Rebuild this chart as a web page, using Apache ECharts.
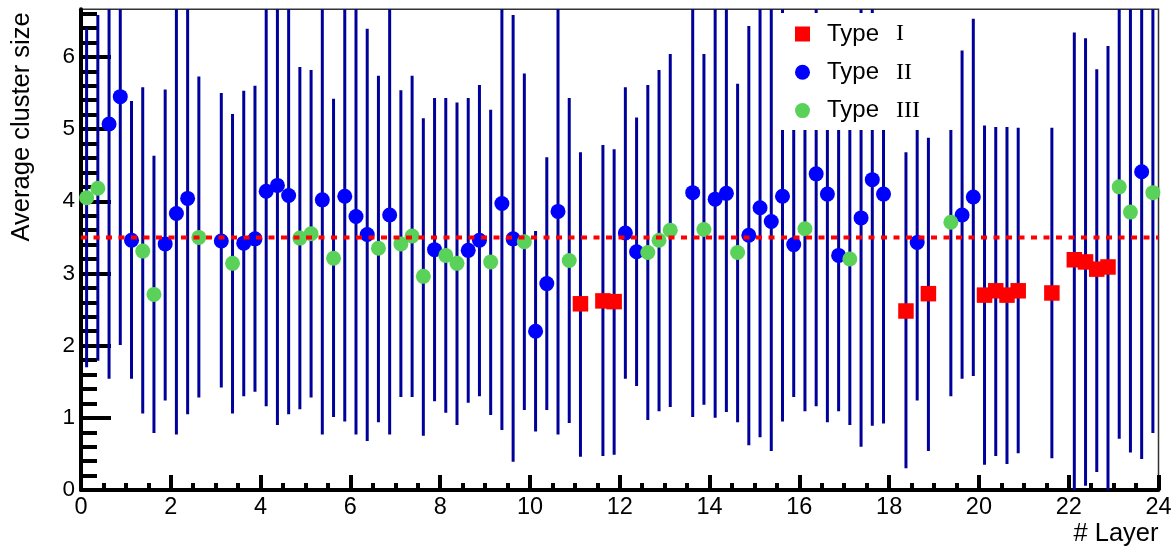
<!DOCTYPE html>
<html><head><meta charset="utf-8">
<script src="https://cdn.jsdelivr.net/npm/echarts@6/dist/echarts.min.js"></script>
<style>html,body{margin:0;padding:0;background:#fff}#c{width:1175px;height:547px}</style>
</head><body><div id="c"></div>
<script>
// ---- data ----
const typeI_layer = [11.125, 11.625, 11.875, 18.375, 18.875, 20.125, 20.375, 20.625, 20.875, 21.625, 22.125, 22.375, 22.625, 22.875];
const typeI_mean  = [2.58, 2.62, 2.61, 2.48, 2.72, 2.70, 2.76, 2.70, 2.76, 2.73, 3.19, 3.16, 3.06, 3.09];
const typeI_low   = [0.46, 0.47, 0.49, 0.30, 0.54, 0.35, 0.47, 0.36, 0.51, 0.44, 0.00, 0.06, 0.25, 0.00];
const typeI_high  = [4.68, 4.78, 4.72, 4.68, 4.88, 5.05, 5.03, 5.03, 5.02, 5.02, 6.34, 6.26, 5.83, 6.15];

const typeII_layer = [0.625, 0.875, 1.125, 1.875, 2.125, 2.375, 3.125, 3.625, 3.875, 4.125, 4.375, 4.625, 5.375, 5.875, 6.125, 6.375, 6.875, 7.875, 8.625, 8.875, 9.375, 9.625, 10.125, 10.375, 10.625, 12.125, 12.375, 13.625, 14.125, 14.375, 14.875, 15.125, 15.375, 15.625, 15.875, 16.375, 16.625, 16.875, 17.375, 17.625, 17.875, 18.625, 19.625, 19.875, 23.625];
const typeII_mean  = [5.07, 5.45, 3.46, 3.41, 3.83, 4.04, 3.45, 3.42, 3.48, 4.14, 4.22, 4.08, 4.02, 4.07, 3.79, 3.54, 3.81, 3.33, 3.32, 3.46, 3.97, 3.48, 2.20, 2.86, 3.86, 3.56, 3.30, 4.12, 4.03, 4.11, 3.53, 3.91, 3.72, 4.07, 3.40, 4.38, 4.10, 3.25, 3.77, 4.30, 4.10, 3.43, 3.81, 4.06, 4.41];
const typeII_low   = [1.54, 2.01, 1.54, 1.24, 0.77, 1.05, 1.42, 1.30, 1.36, 1.16, 0.90, 1.05, 0.77, 0.95, 0.77, 0.68, 0.77, 1.23, 1.21, 1.30, 0.83, 0.39, 0.81, 1.11, 0.77, 1.54, 1.44, 1.01, 1.00, 1.08, 0.62, 0.73, 0.54, 0.95, 1.29, 1.16, 0.94, 1.09, 0.60, 0.89, 0.92, 1.24, 1.54, 1.58, 0.43];
const typeII_high  = [7.50, 7.50, 5.39, 5.55, 7.50, 7.50, 5.50, 5.53, 5.60, 7.50, 7.50, 7.50, 7.50, 7.50, 7.50, 6.39, 7.50, 5.43, 5.43, 5.61, 7.50, 6.58, 3.59, 4.61, 7.50, 5.58, 5.16, 7.50, 7.50, 7.50, 6.43, 7.50, 7.50, 7.50, 5.60, 7.50, 6.30, 5.50, 7.20, 7.20, 6.20, 5.80, 6.09, 6.53, 7.50];

const typeIII_layer = [0.125, 0.375, 1.375, 1.625, 2.625, 3.375, 4.875, 5.125, 5.625, 6.625, 7.125, 7.375, 7.625, 8.125, 8.375, 9.125, 9.875, 10.875, 12.625, 12.875, 13.125, 13.875, 14.625, 16.125, 17.125, 19.375, 23.125, 23.375, 23.875];
const typeIII_mean  = [4.05, 4.18, 3.31, 2.71, 3.50, 3.14, 3.49, 3.55, 3.21, 3.35, 3.41, 3.52, 2.96, 3.25, 3.14, 3.16, 3.44, 3.18, 3.29, 3.46, 3.60, 3.61, 3.29, 3.62, 3.20, 3.71, 4.20, 3.85, 4.12];
const typeIII_low   = [1.70, 1.79, 1.06, 0.79, 1.28, 1.06, 1.12, 1.28, 1.01, 0.94, 1.29, 1.29, 0.75, 1.07, 0.90, 1.04, 1.11, 0.93, 0.97, 1.09, 1.15, 1.18, 0.94, 1.09, 0.90, 1.30, 0.71, 0.52, 0.79];
const typeIII_high  = [6.39, 6.58, 5.58, 4.63, 5.73, 5.21, 5.86, 5.82, 5.42, 5.74, 5.54, 5.74, 5.15, 5.43, 5.37, 5.27, 5.77, 5.43, 5.61, 5.82, 6.04, 6.04, 5.63, 5.90, 5.60, 5.70, 7.50, 7.50, 7.50];

const meanLevel = 3.5;
const xTickValues = [0, 2, 4, 6, 8, 10, 12, 14, 16, 18, 20, 22, 24];
const yMajorTicks = [0, 1, 2, 3, 4, 5, 6];
const yMinorTicks = [0.2, 0.4, 0.6, 0.8, 1.2, 1.4, 1.6, 1.8, 2.2, 2.4, 2.6, 2.8, 3.2, 3.4, 3.6, 3.8, 4.2, 4.4, 4.6, 4.8, 5.2, 5.4, 5.6, 5.8, 6.2, 6.4, 6.6];
const yMax = 6.66;

// ---- chart ----
const zip2 = (a, b) => a.map((v, i) => [v, b[i]]);
const zip3 = (a, b, c) => a.map((v, i) => [v, b[i], c[i]]);
const BAR = '#00009a';
const FONT = 'Liberation Sans';

function errSeries(name, layer, lo, hi) {
  return {
    type: 'custom', name: name, clip: true, z: 2, silent: true,
    data: zip3(layer, lo, hi),
    encode: { x: 0, y: [1, 2] },
    renderItem: function (params, api) {
      const p1 = api.coord([api.value(0), api.value(1)]);
      const p2 = api.coord([api.value(0), api.value(2)]);
      return { type: 'line', shape: { x1: p1[0], y1: p1[1], x2: p2[0], y2: p2[1] },
               style: { stroke: BAR, lineWidth: 3 } };
    }
  };
}

const chart = echarts.init(document.getElementById('c'), null, { renderer: 'canvas' });
chart.setOption({
  animation: false,
  backgroundColor: '#fff',
  grid: { left: 81, right: 16.5, top: 9.3, bottom: 56.3, show: true, borderColor: '#333', borderWidth: 1.5, backgroundColor: 'transparent' },
  xAxis: {
    type: 'value', min: 0, max: 24, interval: 2,
    name: '# Layer', nameLocation: 'end', nameGap: 0, nameMoveOverlap: false,
    nameTextStyle: { fontFamily: FONT, fontSize: 25.5, color: '#000', align: 'right', verticalAlign: 'top', padding: [31, 0, 0, 0] },
    axisLine: { onZero: false, lineStyle: { color: '#000', width: 4 } },
    axisTick: { inside: true, length: 15, lineStyle: { color: '#000', width: 4 } },
    minorTick: { show: true, splitNumber: 4, length: 7, lineStyle: { color: '#000', width: 4 } },
    axisLabel: { fontFamily: FONT, fontSize: 23.5, color: '#000', margin: 6 },
    splitLine: { show: false }
  },
  yAxis: [{
    type: 'value', min: 0, max: yMax, interval: 1,
    name: 'Average cluster size', nameLocation: 'end', nameRotate: 90, nameGap: -3, nameMoveOverlap: false,
    nameTextStyle: { fontFamily: FONT, fontSize: 25.5, color: '#000', align: 'right', verticalAlign: 'bottom', padding: [0, 0, 46, 0] },
    axisLine: { onZero: false, lineStyle: { color: '#000', width: 4 } },
    axisTick: { inside: true, length: 30, customValues: yMajorTicks, lineStyle: { color: '#000', width: 4 } },
    axisLabel: { fontFamily: FONT, fontSize: 22.5, color: '#000', margin: 6, customValues: yMajorTicks },
    splitLine: { show: false }
  }, {
    type: 'value', min: 0, max: yMax, position: 'left', offset: 0,
    axisLine: { show: false },
    axisTick: { inside: true, length: 16, customValues: yMinorTicks, lineStyle: { color: '#000', width: 4 } },
    axisLabel: { show: false },
    splitLine: { show: false }
  }],
  legend: {
    data: ['Type I', 'Type II', 'Type III'],
    orient: 'vertical', left: 776, top: 13,
    padding: [9, 38, 7.5, 19], itemGap: 14.3, itemWidth: 15, itemHeight: 15,
    backgroundColor: '#fff', selectedMode: false,
    formatter: function (name) { const p = name.split(' '); return '{a|' + p[0] + '}{b|' + p[1] + '}'; },
    textStyle: { lineHeight: 24, rich: {
      a: { fontFamily: FONT, fontSize: 24, color: '#000', padding: [0, 0, 0, 12], lineHeight: 24 },
      b: { fontFamily: 'Liberation Serif', fontSize: 24, color: '#000', padding: [0, 0, 0, 17], lineHeight: 24 }
    } }
  },
  series: [
    errSeries('errI', typeI_layer, typeI_low, typeI_high),
    errSeries('errII', typeII_layer, typeII_low, typeII_high),
    errSeries('errIII', typeIII_layer, typeIII_low, typeIII_high),
    { type: 'scatter', name: 'Type I', symbol: 'rect', symbolSize: 15.5, z: 3, silent: true,
      itemStyle: { color: '#ff0000', opacity: 1 }, data: zip2(typeI_layer, typeI_mean) },
    { type: 'scatter', name: 'Type II', symbol: 'circle', symbolSize: 15, z: 3, silent: true,
      itemStyle: { color: '#0000ff', opacity: 1 }, data: zip2(typeII_layer, typeII_mean) },
    { type: 'scatter', name: 'Type III', symbol: 'circle', symbolSize: 15, z: 3, silent: true,
      itemStyle: { color: '#5ad25a', opacity: 1 }, data: zip2(typeIII_layer, typeIII_mean) },
    { type: 'line', name: 'mean', z: 4, silent: true, symbol: 'none',
      lineStyle: { color: '#ff0000', width: 4, type: [6, 6.5] },
      data: [[xTickValues[0], meanLevel], [xTickValues[xTickValues.length - 1], meanLevel]] }
  ]
});
</script>
</body></html>
